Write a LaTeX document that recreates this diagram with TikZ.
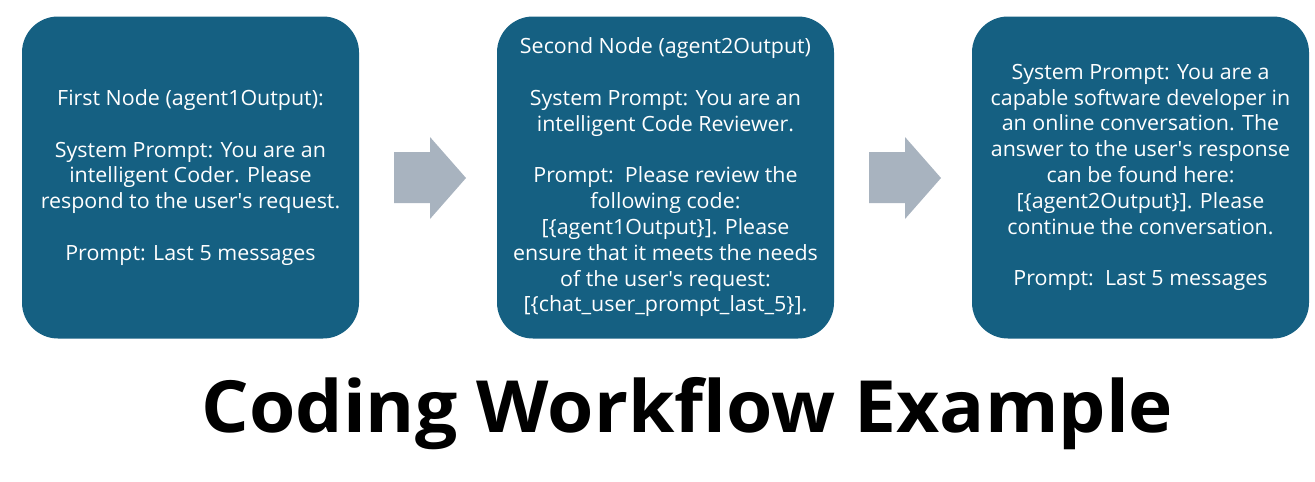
\documentclass[tikz,border=0pt]{standalone}
\usepackage{fontspec}
\setmainfont{Open Sans}[FakeStretch=1.02]
\newfontfamily\titlefont{Open Sans}[FakeStretch=1.04]
\definecolor{boxblue}{HTML}{156082}
\definecolor{arrowgrey}{HTML}{A8B3BF}
\newcommand{\apos}{\textquotesingle}
\tikzset{
  flowbox/.style={fill=boxblue, draw=none, rounded corners=36pt,
    minimum width=337pt, minimum height=322pt, inner sep=0pt,
    text=white, align=center, font=\fontsize{21}{25.8}\selectfont},
  blockarrow/.style={fill=arrowgrey, draw=none},
  titletext/.style={font=\titlefont\bfseries\fontsize{72}{80}\selectfont, text=black, inner sep=0pt}
}
\begin{document}
\begin{tikzpicture}[x=1pt,y=-1pt]
\useasboundingbox (0,0) rectangle (1315,482);
\node[flowbox] (n1) at (190.5,177.5) {First Node (agent1Output):\\[25.8pt]
System Prompt: You are an\\
intelligent Coder. Please\\
respond to the user\apos s request.\\[25.8pt]
Prompt: Last 5 messages};
\node[flowbox] (n2) at (665.5,177.5) {Second Node (agent2Output)\\[25.8pt]
System Prompt: You are an\\
intelligent Code Reviewer.\\[25.8pt]
Prompt:\ \ Please review the\\
following code:\\
{[}\{agent1Output\}{]}. Please\\
ensure that it meets the needs\\
of the user\apos s request:\\
{[}\{chat\_user\_prompt\_last\_5\}{]}.};
\node[flowbox] (n3) at (1140.5,177.5) {System Prompt: You are a\\
capable software developer in\\
an online conversation. The\\
answer to the user\apos s response\\
can be found here:\\
{[}\{agent2Output\}{]}. Please\\
continue the conversation.\\[25.8pt]
Prompt:\ \ Last 5 messages};
\fill[blockarrow] (394,152) -- (430,152) -- (430,137) -- (466,178) -- (430,219) -- (430,203) -- (394,203) -- cycle;
\fill[blockarrow] (869,152) -- (905,152) -- (905,137) -- (941,178) -- (905,219) -- (905,203) -- (869,203) -- cycle;
\node[titletext, anchor=base] (title) at (687.5,432) {Coding Workflow Example};
\end{tikzpicture}
\end{document}
